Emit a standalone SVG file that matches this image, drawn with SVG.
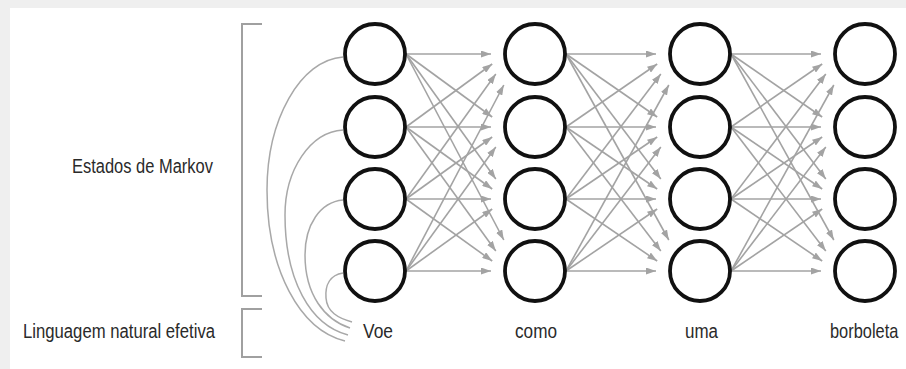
<svg xmlns="http://www.w3.org/2000/svg" width="906" height="369" viewBox="0 0 906 369">
<style>
.st{fill:#fff;stroke:#111;stroke-width:3.8}
.ar{stroke:#a3a3a3;stroke-width:1.6;fill:none;marker-end:url(#ah)}
.cv{stroke:#a8a8a8;stroke-width:1.5;fill:none}
.br{stroke:#a0a0a0;stroke-width:2;fill:none}
.lb{font-family:"Liberation Sans",Arial,sans-serif;font-size:20px;fill:#2a2a2a}
</style>
<defs>
<marker id="ah" markerUnits="userSpaceOnUse" markerWidth="10" markerHeight="7" refX="10" refY="3.5" orient="auto">
<path d="M0,0 L10,3.5 L0,7 z" fill="#a3a3a3"/>
</marker>
</defs>
<rect x="0" y="0" width="906" height="369" fill="#efefef"/>
<rect x="10" y="8" width="896" height="361" fill="#ffffff"/>
<g id="brackets">
<path class="br" d="M262,24 H242 V296 H262"/>
<path class="br" d="M262,309 H242 V357 H262"/>
</g>
<g id="labels">
<text class="lb" x="72" y="173" textLength="141" lengthAdjust="spacingAndGlyphs">Estados de Markov</text>
<text class="lb" x="23" y="338" textLength="192" lengthAdjust="spacingAndGlyphs">Linguagem natural efetiva</text>
</g>
<g id="connectors">
<path class="cv" d="M343,57 C300,60 267,120 267,190 C267,270 300,330 345,341"/>
<path class="cv" d="M343,130 C310,132 285,170 285,215 C285,280 310,325 348,335"/>
<path class="cv" d="M343,200 C320,202 305,225 305,255 C305,295 325,320 350,328"/>
<path class="cv" d="M343,273 C330,275 325,285 326,298 C327,312 338,318 352,322"/>
<line class="ar" x1="406" y1="54" x2="491" y2="54"/>
<line class="ar" x1="406" y1="127" x2="492.2" y2="64"/>
<line class="ar" x1="406" y1="199" x2="495.8" y2="74"/>
<line class="ar" x1="406" y1="271" x2="503.8" y2="85"/>
<line class="ar" x1="406" y1="54" x2="492.2" y2="117"/>
<line class="ar" x1="406" y1="127" x2="491" y2="127"/>
<line class="ar" x1="406" y1="199" x2="492.2" y2="137"/>
<line class="ar" x1="406" y1="271" x2="495.8" y2="147"/>
<line class="ar" x1="406" y1="54" x2="495.8" y2="179"/>
<line class="ar" x1="406" y1="127" x2="492.2" y2="189"/>
<line class="ar" x1="406" y1="199" x2="491" y2="199"/>
<line class="ar" x1="406" y1="271" x2="492.2" y2="209"/>
<line class="ar" x1="406" y1="54" x2="503.8" y2="240"/>
<line class="ar" x1="406" y1="127" x2="495.8" y2="251"/>
<line class="ar" x1="406" y1="199" x2="492.2" y2="261"/>
<line class="ar" x1="406" y1="271" x2="491" y2="271"/>
<line class="ar" x1="566" y1="54" x2="656" y2="54"/>
<line class="ar" x1="566" y1="127" x2="657.2" y2="64"/>
<line class="ar" x1="566" y1="199" x2="660.8" y2="74"/>
<line class="ar" x1="566" y1="271" x2="668.8" y2="85"/>
<line class="ar" x1="566" y1="54" x2="657.2" y2="117"/>
<line class="ar" x1="566" y1="127" x2="656" y2="127"/>
<line class="ar" x1="566" y1="199" x2="657.2" y2="137"/>
<line class="ar" x1="566" y1="271" x2="660.8" y2="147"/>
<line class="ar" x1="566" y1="54" x2="660.8" y2="179"/>
<line class="ar" x1="566" y1="127" x2="657.2" y2="189"/>
<line class="ar" x1="566" y1="199" x2="656" y2="199"/>
<line class="ar" x1="566" y1="271" x2="657.2" y2="209"/>
<line class="ar" x1="566" y1="54" x2="668.8" y2="240"/>
<line class="ar" x1="566" y1="127" x2="660.8" y2="251"/>
<line class="ar" x1="566" y1="199" x2="657.2" y2="261"/>
<line class="ar" x1="566" y1="271" x2="656" y2="271"/>
<line class="ar" x1="731" y1="54" x2="821" y2="54"/>
<line class="ar" x1="731" y1="127" x2="822.2" y2="64"/>
<line class="ar" x1="731" y1="199" x2="825.8" y2="74"/>
<line class="ar" x1="731" y1="271" x2="833.8" y2="85"/>
<line class="ar" x1="731" y1="54" x2="822.2" y2="117"/>
<line class="ar" x1="731" y1="127" x2="821" y2="127"/>
<line class="ar" x1="731" y1="199" x2="822.2" y2="137"/>
<line class="ar" x1="731" y1="271" x2="825.8" y2="147"/>
<line class="ar" x1="731" y1="54" x2="825.8" y2="179"/>
<line class="ar" x1="731" y1="127" x2="822.2" y2="189"/>
<line class="ar" x1="731" y1="199" x2="821" y2="199"/>
<line class="ar" x1="731" y1="271" x2="822.2" y2="209"/>
<line class="ar" x1="731" y1="54" x2="833.8" y2="240"/>
<line class="ar" x1="731" y1="127" x2="825.8" y2="251"/>
<line class="ar" x1="731" y1="199" x2="822.2" y2="261"/>
<line class="ar" x1="731" y1="271" x2="821" y2="271"/>
</g>
<g id="col-voe">
<circle class="st" cx="375" cy="54" r="30"/>
<circle class="st" cx="375" cy="127" r="30"/>
<circle class="st" cx="375" cy="199" r="30"/>
<circle class="st" cx="375" cy="271" r="30"/>
<text class="lb" x="363" y="338" textLength="30" lengthAdjust="spacingAndGlyphs">Voe</text>
</g>
<g id="col-como">
<circle class="st" cx="535" cy="54" r="30"/>
<circle class="st" cx="535" cy="127" r="30"/>
<circle class="st" cx="535" cy="199" r="30"/>
<circle class="st" cx="535" cy="271" r="30"/>
<text class="lb" x="515" y="338" textLength="42" lengthAdjust="spacingAndGlyphs">como</text>
</g>
<g id="col-uma">
<circle class="st" cx="700" cy="54" r="30"/>
<circle class="st" cx="700" cy="127" r="30"/>
<circle class="st" cx="700" cy="199" r="30"/>
<circle class="st" cx="700" cy="271" r="30"/>
<text class="lb" x="685" y="338" textLength="33" lengthAdjust="spacingAndGlyphs">uma</text>
</g>
<g id="col-borboleta">
<circle class="st" cx="865" cy="54" r="30"/>
<circle class="st" cx="865" cy="127" r="30"/>
<circle class="st" cx="865" cy="199" r="30"/>
<circle class="st" cx="865" cy="271" r="30"/>
<text class="lb" transform="translate(830,338) scale(0.82,1)" x="0" y="0">borboleta</text>
</g>
</svg>
